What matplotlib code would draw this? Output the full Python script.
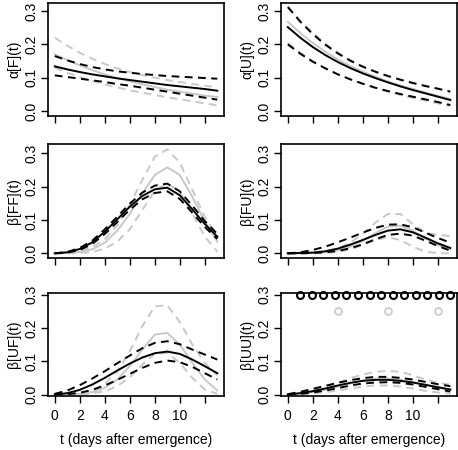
"""
Fitted rates (black) against reference rates (grey), with
dashed bands, for alpha[F], alpha[U] and the four beta terms.
"""

import matplotlib
matplotlib.use('Agg')
from matplotlib import pyplot as plt

plt.rcParams['font.family'] = ['Liberation Sans', 'DejaVu Sans']
plt.rcParams['font.size'] = 10

t = [0, 1, 2, 3, 4, 5, 6, 7, 8, 9, 10, 11, 12, 13]

# alpha[F]
aF_fit = [0.134, 0.125, 0.117, 0.110, 0.104, 0.098, 0.093, 0.088, 0.083, 0.078, 0.074, 0.070, 0.066, 0.061]
aF_fit_hi = [0.165, 0.152, 0.141, 0.132, 0.125, 0.119, 0.115, 0.111, 0.108, 0.105, 0.103, 0.101, 0.099, 0.097]
aF_fit_lo = [0.107, 0.102, 0.097, 0.092, 0.087, 0.081, 0.076, 0.070, 0.064, 0.058, 0.052, 0.046, 0.040, 0.034]
aF_ref = [0.170, 0.153, 0.137, 0.123, 0.110, 0.099, 0.089, 0.080, 0.072, 0.064, 0.058, 0.052, 0.046, 0.042]
aF_ref_hi = [0.220, 0.196, 0.175, 0.157, 0.141, 0.128, 0.117, 0.108, 0.100, 0.093, 0.087, 0.081, 0.076, 0.071]
aF_ref_lo = [0.130, 0.115, 0.102, 0.090, 0.080, 0.071, 0.062, 0.055, 0.048, 0.041, 0.035, 0.029, 0.023, 0.017]

# alpha[U]
aU_fit = [0.252, 0.220, 0.192, 0.168, 0.147, 0.129, 0.113, 0.099, 0.086, 0.074, 0.063, 0.053, 0.043, 0.033]
aU_fit_hi = [0.312, 0.268, 0.231, 0.199, 0.173, 0.151, 0.133, 0.118, 0.105, 0.094, 0.084, 0.075, 0.067, 0.058]
aU_fit_lo = [0.200, 0.172, 0.148, 0.128, 0.110, 0.095, 0.082, 0.070, 0.060, 0.051, 0.043, 0.035, 0.027, 0.018]
aU_ref = [0.268, 0.234, 0.204, 0.178, 0.155, 0.135, 0.118, 0.103, 0.089, 0.077, 0.066, 0.056, 0.046, 0.036]
aU_ref_hi = [0.315, 0.272, 0.235, 0.203, 0.176, 0.153, 0.134, 0.119, 0.106, 0.095, 0.085, 0.076, 0.068, 0.060]
aU_ref_lo = [0.205, 0.175, 0.150, 0.129, 0.111, 0.095, 0.081, 0.069, 0.058, 0.048, 0.039, 0.031, 0.023, 0.015]

# beta[FF]
bFF_fit = [0.000, 0.003, 0.013, 0.033, 0.065, 0.102, 0.140, 0.172, 0.192, 0.197, 0.174, 0.132, 0.088, 0.050]
bFF_fit_hi = [0.000, 0.004, 0.016, 0.038, 0.072, 0.110, 0.149, 0.182, 0.203, 0.209, 0.186, 0.143, 0.097, 0.058]
bFF_fit_lo = [0.000, 0.002, 0.010, 0.028, 0.058, 0.094, 0.131, 0.162, 0.181, 0.186, 0.163, 0.122, 0.079, 0.043]
bFF_ref = [0.000, 0.001, 0.004, 0.012, 0.032, 0.068, 0.118, 0.180, 0.235, 0.258, 0.235, 0.170, 0.095, 0.035]
bFF_ref_hi = [0.000, 0.002, 0.006, 0.018, 0.042, 0.085, 0.145, 0.220, 0.290, 0.312, 0.272, 0.190, 0.110, 0.052]
bFF_ref_lo = [0.000, 0.000, 0.001, 0.004, 0.014, 0.035, 0.072, 0.130, 0.188, 0.210, 0.185, 0.120, 0.050, 0.005]

# beta[FU]
bFU_fit = [0.000, 0.001, 0.002, 0.006, 0.014, 0.026, 0.040, 0.055, 0.068, 0.072, 0.063, 0.047, 0.030, 0.016]
bFU_fit_hi = [0.000, 0.003, 0.010, 0.020, 0.033, 0.047, 0.062, 0.076, 0.086, 0.087, 0.078, 0.062, 0.046, 0.032]
bFU_fit_lo = [0.000, 0.000, 0.001, 0.003, 0.007, 0.015, 0.027, 0.042, 0.055, 0.059, 0.053, 0.038, 0.022, 0.008]
bFU_ref = [0.000, 0.000, 0.001, 0.003, 0.009, 0.020, 0.038, 0.060, 0.080, 0.083, 0.068, 0.045, 0.025, 0.012]
bFU_ref_hi = [0.000, 0.000, 0.002, 0.006, 0.015, 0.032, 0.058, 0.092, 0.118, 0.118, 0.088, 0.062, 0.055, 0.052]
bFU_ref_lo = [0.000, 0.000, 0.000, 0.001, 0.004, 0.012, 0.025, 0.040, 0.048, 0.040, 0.020, 0.005, 0.000, 0.000]

# beta[UF]
bUF_fit = [0.000, 0.004, 0.014, 0.030, 0.050, 0.072, 0.093, 0.111, 0.124, 0.129, 0.122, 0.105, 0.085, 0.064]
bUF_fit_hi = [0.002, 0.012, 0.028, 0.048, 0.070, 0.094, 0.117, 0.139, 0.155, 0.160, 0.151, 0.135, 0.120, 0.105]
bUF_fit_lo = [0.000, 0.001, 0.005, 0.014, 0.027, 0.044, 0.062, 0.080, 0.095, 0.102, 0.097, 0.083, 0.064, 0.045]
bUF_ref = [0.000, 0.000, 0.002, 0.007, 0.020, 0.045, 0.085, 0.135, 0.180, 0.185, 0.150, 0.095, 0.045, 0.012]
bUF_ref_hi = [0.000, 0.001, 0.004, 0.012, 0.032, 0.070, 0.130, 0.205, 0.265, 0.268, 0.218, 0.150, 0.095, 0.058]
bUF_ref_lo = [0.000, 0.000, 0.001, 0.003, 0.010, 0.025, 0.052, 0.090, 0.122, 0.125, 0.095, 0.050, 0.015, 0.002]

# beta[UU]
bUU_fit = [0.000, 0.004, 0.010, 0.018, 0.027, 0.035, 0.041, 0.044, 0.044, 0.041, 0.036, 0.029, 0.022, 0.015]
bUU_fit_hi = [0.001, 0.008, 0.017, 0.026, 0.035, 0.043, 0.049, 0.053, 0.053, 0.050, 0.045, 0.038, 0.031, 0.025]
bUU_fit_lo = [0.000, 0.002, 0.006, 0.012, 0.019, 0.027, 0.033, 0.036, 0.037, 0.035, 0.030, 0.023, 0.016, 0.009]
bUU_ref = [0.000, 0.003, 0.008, 0.015, 0.024, 0.034, 0.042, 0.047, 0.048, 0.045, 0.038, 0.030, 0.021, 0.014]
bUU_ref_hi = [0.001, 0.006, 0.014, 0.024, 0.036, 0.049, 0.060, 0.068, 0.071, 0.068, 0.058, 0.045, 0.035, 0.030]
bUU_ref_lo = [0.000, 0.001, 0.003, 0.007, 0.012, 0.018, 0.024, 0.027, 0.027, 0.024, 0.018, 0.011, 0.006, 0.003]

# sampling times shown as circles in the beta[UU] panel
obs_t = [1.00, 1.92, 2.85, 3.77, 4.69, 5.62, 6.54, 7.46, 8.38, 9.31, 10.23, 11.15, 12.08, 13.00]
obs_y = [0.30] * len(obs_t)
ref_obs_t = [4, 8, 12]
ref_obs_y = [0.25, 0.25, 0.25]

panels = [
    ('\u03b1[F](t)', aF_fit, aF_fit_lo, aF_fit_hi, aF_ref, aF_ref_lo, aF_ref_hi),
    ('\u03b1[U](t)', aU_fit, aU_fit_lo, aU_fit_hi, aU_ref, aU_ref_lo, aU_ref_hi),
    ('\u03b2[FF](t)', bFF_fit, bFF_fit_lo, bFF_fit_hi, bFF_ref, bFF_ref_lo, bFF_ref_hi),
    ('\u03b2[FU](t)', bFU_fit, bFU_fit_lo, bFU_fit_hi, bFU_ref, bFU_ref_lo, bFU_ref_hi),
    ('\u03b2[UF](t)', bUF_fit, bUF_fit_lo, bUF_fit_hi, bUF_ref, bUF_ref_lo, bUF_ref_hi),
    ('\u03b2[UU](t)', bUU_fit, bUU_fit_lo, bUU_fit_hi, bUU_ref, bUU_ref_lo, bUU_ref_hi),
]

GRAY = '#c8c8c8'
DASH = (0, (4, 2.8))
W, H = 458.0, 450.0
col_left = [48.3, 281.3]
col_width = 175.5
row_top = [3.0, 144.0, 293.3]
row_bottom = [115.7, 258.3, 395.7]
row_ylim = [(-0.0141, 0.3243), (-0.015, 0.328), (-0.0036, 0.304)]

fig = plt.figure(figsize=(W / 100, H / 100), dpi=100)

for i, (label, fit, fit_lo, fit_hi, ref, ref_lo, ref_hi) in enumerate(panels):
    row, col = divmod(i, 2)
    ax = fig.add_axes([col_left[col] / W, 1 - row_bottom[row] / H,
                       col_width / W, (row_bottom[row] - row_top[row]) / H])

    ax.plot(t, ref_lo, color=GRAY, lw=1.4, ls=DASH)
    ax.plot(t, ref_hi, color=GRAY, lw=1.4, ls=DASH)
    ax.plot(t, ref, color=GRAY, lw=1.4)
    ax.plot(t, fit_lo, color='black', lw=1.4, ls=DASH)
    ax.plot(t, fit_hi, color='black', lw=1.4, ls=DASH)
    ax.plot(t, fit, color='black', lw=1.4)

    if i == 5:
        ax.plot(obs_t, obs_y, 'o', ms=5, mfc='none', mec='black', mew=1.5, clip_on=False)
        ax.plot(ref_obs_t, ref_obs_y, 'o', ms=5, mfc='none', mec=GRAY, mew=1.2)

    ax.set_xlim(-0.52, 13.52)
    ax.set_ylim(*row_ylim[row])
    ax.set_xticks([0, 2, 4, 6, 8, 10, 12])
    if row == 2:
        ax.set_xticklabels(['0', '2', '4', '6', '8', '10', ''])
        ax.text(0.5, -0.43, 't (days after emergence)', transform=ax.transAxes,
                ha='center', va='center', fontsize=10)
    else:
        ax.set_xticklabels([])
    ax.set_yticks([0.0, 0.1, 0.2, 0.3])
    ax.set_yticklabels(['0.0', '0.1', '0.2', '0.3'], rotation=90, va='center')
    ax.tick_params(direction='out', length=5, width=1.0, labelsize=10)
    ax.tick_params(axis='x', pad=4.5)
    ax.tick_params(axis='y', pad=2)
    for sp in ax.spines.values():
        sp.set_linewidth(1.2)
    ax.text(-0.195, 0.5, label, transform=ax.transAxes, rotation=90,
            ha='center', va='center', fontsize=10)

plt.savefig('out.png', dpi=100)
print('done')
